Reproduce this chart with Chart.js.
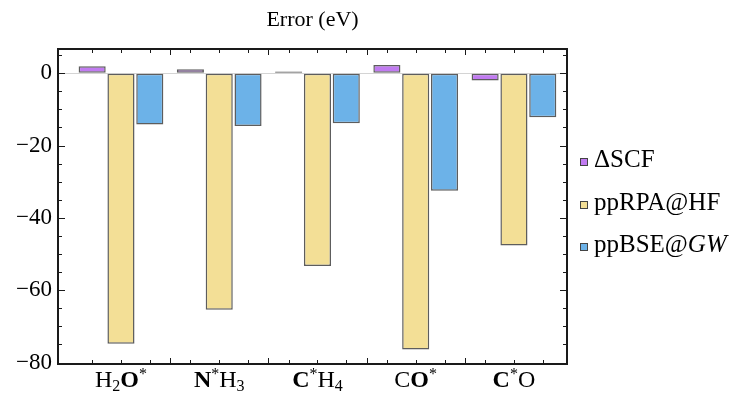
<!DOCTYPE html>
<html>
<head>
<meta charset="utf-8">
<script src="https://cdn.jsdelivr.net/npm/chart.js@4"></script>
<style>
  body { margin: 0; background: #fff; }
</style>
</head>
<body>
<canvas id="bars" width="744" height="396"></canvas>
<script>
// molecule labels, split into pieces so the excited atom can be bold
const categories = [
    [['H'], ['2', 'sub'], ['O', 'bold'], ['*', 'sup']],
    [['N', 'bold'], ['*', 'sup'], ['H'], ['3', 'sub']],
    [['C', 'bold'], ['*', 'sup'], ['H'], ['4', 'sub']],
    [['C'], ['O', 'bold'], ['*', 'sup']],
    [['C', 'bold'], ['*', 'sup'], ['O']]
]
const deltaSCF = [1.9, 1.1, 0.5, 2.3, -2.0]
const ppRPA = [-74.8, -65.4, -53.3, -76.4, -47.6]
const ppBSE = [-14.2, -14.6, -13.8, -32.5, -12.2]
const yTicks = [0, -20, -40, -60, -80]

const serif = '"Liberation Serif", "DejaVu Serif", serif'

const toPoints = vals => vals.map((v, i) => ({x: i + 1, y: v}))

// frame with inward ticks on all four sides, like the original
const framePlugin = {
    id: 'frame',
    afterDraw(chart) {
        const ctx = chart.ctx
        const a = chart.chartArea
        const x = chart.scales.x
        const y = chart.scales.y
        ctx.save()
        ctx.strokeStyle = '#1a1a1a'
        ctx.lineWidth = 1
        for (let v = -80; v <= 5; v += 5) {
            const py = Math.round(y.getPixelForValue(v)) + 0.5
            const len = yTicks.includes(v) ? 7 : 4
            ctx.beginPath()
            ctx.moveTo(a.left, py); ctx.lineTo(a.left + len, py)
            ctx.moveTo(a.right, py); ctx.lineTo(a.right - len, py)
            ctx.stroke()
        }
        chart.data.datasets.forEach((ds, di) => {
            chart.getDatasetMeta(di).data.forEach(bar => {
                const px = Math.round(bar.x) + 0.5
                ctx.beginPath()
                ctx.moveTo(px, a.bottom); ctx.lineTo(px, a.bottom - 4)
                ctx.moveTo(px, a.top); ctx.lineTo(px, a.top + 4)
                ctx.stroke()
            })
        })
        for (let i = 1; i < categories.length; i++) {
            const px = Math.round(x.getPixelForValue(i + 0.5)) + 0.5
            ctx.beginPath()
            ctx.moveTo(px, a.bottom); ctx.lineTo(px, a.bottom - 6)
            ctx.moveTo(px, a.top); ctx.lineTo(px, a.top + 6)
            ctx.stroke()
        }
        ctx.lineWidth = 2
        ctx.strokeRect(a.left, a.top, a.right - a.left, a.bottom - a.top)

        // category labels under each group
        ctx.fillStyle = '#000'
        ctx.textBaseline = 'alphabetic'
        ctx.textAlign = 'left'
        const size = 24
        const fontFor = kind => {
            if (kind === 'bold') return 'bold ' + size + 'px ' + serif
            if (kind === 'sub' || kind === 'sup') return Math.round(size * 0.68) + 'px ' + serif
            return size + 'px ' + serif
        }
        categories.forEach((parts, i) => {
            let w = 0
            parts.forEach(p => { ctx.font = fontFor(p[1]); w += ctx.measureText(p[0]).width })
            let px = x.getPixelForValue(i + 1) - w / 2
            const base = 387
            parts.forEach(p => {
                ctx.font = fontFor(p[1])
                const dy = p[1] === 'sub' ? 4 : p[1] === 'sup' ? -8 : 0
                ctx.fillText(p[0], px, base + dy)
                px += ctx.measureText(p[0]).width
            })
        })

        // legend on the right
        const legend = [
            [['\u0394SCF']],
            [['ppRPA@HF']],
            [['ppBSE@'], ['GW', 'italic']]
        ]
        const baselines = [167, 210, 252]
        legend.forEach((parts, i) => {
            const ds = chart.data.datasets[i]
            const b = baselines[i]
            ctx.fillStyle = ds.backgroundColor
            ctx.fillRect(580, b - 9, 8, 8)
            ctx.lineWidth = 1
            ctx.strokeStyle = '#444'
            ctx.strokeRect(580.5, b - 8.5, 7, 7)
            ctx.fillStyle = '#000'
            let px = 594
            parts.forEach(p => {
                ctx.font = (p[1] === 'italic' ? 'italic ' : '') + '25px ' + serif
                ctx.fillText(p[0], px, b)
                px += ctx.measureText(p[0]).width
            })
        })
        ctx.restore()
    }
}

const barStyle = {
    borderColor: 'rgba(65,65,65,0.85)',
    borderWidth: 1.5,
    borderSkipped: false,
    categoryPercentage: 0.88,
    barPercentage: 0.94,
}

const barConfig = {
    type: 'bar',
    data: {
        datasets: [
            { label: '\u0394SCF', backgroundColor: '#c17bf1', data: toPoints(deltaSCF), ...barStyle },
            { label: 'ppRPA@HF', backgroundColor: '#f3df96', data: toPoints(ppRPA), ...barStyle },
            { label: 'ppBSE@GW', backgroundColor: '#6cb2e8', data: toPoints(ppBSE), ...barStyle },
        ],
    },
    options: {
        responsive: false,
        animation: false,
        devicePixelRatio: 1,
        layout: { padding: { left: 0, right: 177, top: 0, bottom: 0 } },
        plugins: {
            legend: { display: false },
            tooltip: { enabled: false },
            title: {
                display: true,
                text: 'Error (eV)',
                fullSize: false,
                color: '#000',
                font: { family: serif, size: 22, weight: 'normal', lineHeight: 1.2 },
                padding: { top: 6.6, bottom: 16 },
            },
        },
        scales: {
            x: {
                type: 'linear',
                offset: false,
                min: 0.359,
                max: 5.54,
                grid: { display: false, offset: false },
                border: { display: false },
                ticks: { display: false, stepSize: 1, includeBounds: false },
                afterFit: s => { s.height = 32 },
            },
            y: {
                min: -80.4,
                max: 6.7,
                border: { display: false },
                grid: {
                    drawTicks: false,
                    color: c => c.tick && c.tick.value === 0 ? '#d4d4d4' : 'rgba(0,0,0,0)',
                },
                ticks: {
                    stepSize: 20,
                    includeBounds: false,
                    padding: 6,
                    color: '#000',
                    font: { family: serif, size: 23 },
                    callback: v => v < 0 ? '\u2212' + Math.abs(v) : String(v),
                },
                afterFit: s => { s.width = 58 },
            },
        },
    },
    plugins: [framePlugin],
}

new Chart(document.getElementById('bars'), barConfig)
</script>
</body>
</html>
